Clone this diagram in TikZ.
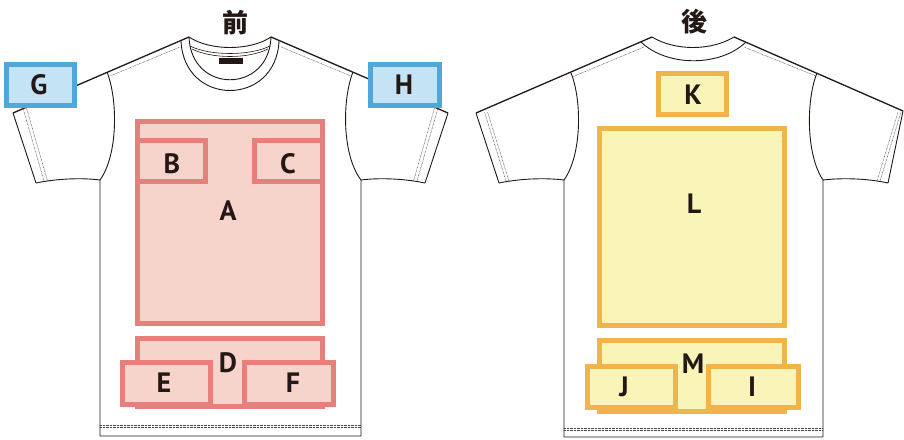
\documentclass[tikz,border=0pt]{standalone}
\usepackage{fontspec}
\newfontfamily\lblfont{PT Sans}
\newfontfamily\cjk{Noto Sans CJK JP}
\definecolor{ink}{HTML}{231815}
\definecolor{fstroke}{HTML}{E6807A}
\definecolor{ffill}{HTML}{F6D4CC}
\definecolor{bstroke}{HTML}{4FA7DA}
\definecolor{bfill}{HTML}{C4E4F6}
\definecolor{ystroke}{HTML}{F0B54A}
\definecolor{yfill}{HTML}{F9F5B9}
\definecolor{stitch}{HTML}{444444}
\begin{document}
\begin{tikzpicture}[x=1pt,y=-1pt,
 outline/.style={draw=ink, line width=0.9pt, line join=round},
 shoulder/.style={draw=ink, line width=1.3pt},
 stitchline/.style={draw=stitch, line width=0.45pt, dash pattern=on 0.7pt off 0.7pt},
 zone/.style={rectangle, line width=5pt, inner sep=0pt, outer sep=0pt},
 redzone/.style={zone, draw=fstroke, fill=ffill},
 bluezone/.style={zone, draw=bstroke, fill=bfill},
 yelzone/.style={zone, draw=ystroke, fill=yfill},
 lbl/.style={font=\lblfont\bfseries\fontsize{28}{28}\selectfont, text=ink, inner sep=0pt},
 ttl/.style={font=\cjk\bfseries\fontsize{26}{26}\selectfont, text=ink, inner sep=0pt}]
\useasboundingbox (0,0) rectangle (904,439);
\fill[white] (0,0) rectangle (904,439);

% ---------- FRONT ----------
\draw[outline] (13,113) -- (36,183) .. controls (60,178) and (85,178) .. (100,180) -- (100,436) -- (361,436) -- (361,180) .. controls (376,178) and (401,178) .. (425,183) -- (448,113);
\draw[shoulder] (13,113) -- (189,37);
\draw[shoulder] (448,113) -- (271,37);
\draw[outline] (189,37) .. controls (210,51) and (250,51) .. (271,37);
\draw[outline] (189,37) .. controls (191,94) and (269,94) .. (271,37);
\draw[outline] (181,41) .. controls (184,107) and (276,107) .. (279,41);
\draw[outline, line width=0.6pt] (190,46) .. controls (210,56) and (250,56) .. (270,46);
\draw[outline, line width=0.6pt] (192,49) .. controls (212,59) and (248,59) .. (268,49);
\fill[ink] (219,58) rectangle (243,64);
\draw[outline] (107,72) .. controls (118,100) and (118,155) .. (100,180);
\draw[outline] (353,72) .. controls (342,100) and (342,155) .. (361,180);
\draw[stitchline] (180,47) -- (110,76);
\draw[stitchline] (281,47) -- (351,76);
\draw[stitchline] (23,108) -- (44,181);
\draw[stitchline] (26.5,108) -- (47.5,181);
\draw[stitchline] (438,108) -- (417,181);
\draw[stitchline] (434.5,108) -- (413.5,181);
\draw[stitchline] (100,425) -- (361,425);
\draw[stitchline] (100,427.5) -- (361,427.5);

\node[ttl] (front) at (235,22.5) {前};

\node[bluezone, minimum width=68pt, minimum height=41pt] (G) at (40.5,85) {};
\node[bluezone, minimum width=69pt, minimum height=41pt] (H) at (405,85) {};
\node[redzone, minimum width=185pt, minimum height=202pt] (A) at (230,222.5) {};
\node[redzone, minimum width=68pt, minimum height=41pt] (B) at (171.5,161) {};
\node[redzone, minimum width=68pt, minimum height=41pt] (C) at (288.5,161) {};
\node[redzone, minimum width=185pt, minimum height=68pt] (D) at (230,372.5) {};
\node[redzone, minimum width=88pt, minimum height=42pt] (E) at (166.5,383.5) {};
\node[redzone, minimum width=89pt, minimum height=42pt] (F) at (289,383.5) {};

\node[lbl] (Gl) at (39,85) {G};
\node[lbl] (Hl) at (404,85) {H};
\node[lbl] (Al) at (228,211) {A};
\node[lbl] (Bl) at (172,164) {B};
\node[lbl] (Cl) at (288,164) {C};
\node[lbl] (Dl) at (228,362.5) {D};
\node[lbl] (El) at (164,383) {E};
\node[lbl] (Fl) at (293,383) {F};

% ---------- BACK ----------
\draw[outline] (476,113) -- (499,183) .. controls (523,178) and (548,178) .. (564,180) -- (564,437) -- (823,437) -- (823,180) .. controls (840,178) and (865,178) .. (888,183) -- (903,111);
\draw[shoulder] (476,113) -- (652,37);
\draw[shoulder] (903,111) -- (734,37);
\draw[outline] (652,37) .. controls (675,51) and (711,51) .. (734,37);
\draw[outline] (641,42) .. controls (667,67) and (720,67) .. (746,42);
\draw[outline] (571,73) .. controls (582,100) and (582,155) .. (564,180);
\draw[outline] (817,73) .. controls (806,100) and (806,155) .. (823,180);
\draw[stitchline] (644,47) -- (572,77);
\draw[stitchline] (744,47) -- (816,76);
\draw[stitchline] (484.5,112) -- (506,181);
\draw[stitchline] (487.5,112) -- (509,181);
\draw[stitchline] (898,112) -- (877,181);
\draw[stitchline] (901,112) -- (880,181);
\draw[stitchline] (564,428) -- (823,428);
\draw[stitchline] (564,430.5) -- (823,430.5);

\node[ttl] (back) at (694,22) {後};

\node[yelzone, minimum width=68pt, minimum height=41pt] (K) at (692.5,94) {};
\node[yelzone, minimum width=185pt, minimum height=197pt] (L) at (692,227) {};
\node[yelzone, minimum width=185pt, minimum height=71pt] (M) at (692,376) {};
\node[yelzone, minimum width=88pt, minimum height=41pt] (J) at (631.5,387) {};
\node[yelzone, minimum width=90pt, minimum height=41pt] (I) at (753.5,387) {};

\node[lbl] (Kl) at (693,95) {K};
\node[lbl] (Ll) at (694,204) {L};
\node[lbl] (Ml) at (693,364) {M};
\node[lbl] (Jl) at (624,386.5) {J};
\node[lbl] (Il) at (752,386.5) {I};
\end{tikzpicture}
\end{document}
